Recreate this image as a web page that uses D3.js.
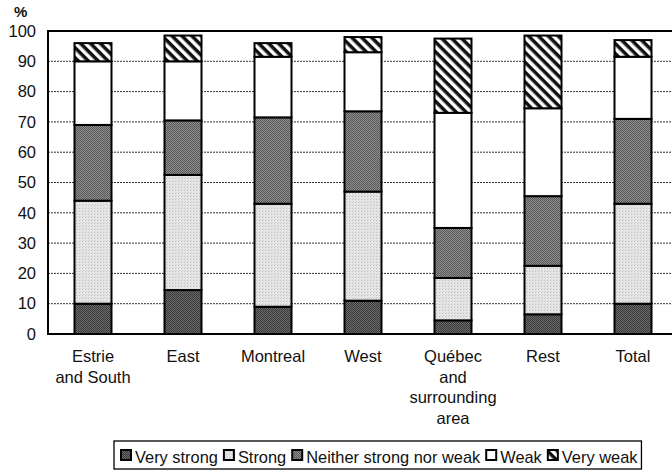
<!DOCTYPE html>
<html>
<head>
<meta charset="utf-8">
<script src="https://cdn.jsdelivr.net/npm/d3@7"></script>
<style>
  html, body { margin: 0; padding: 0; background: #fff; }
  svg { display: block; }
  text { font-family: "Liberation Sans", Arial, sans-serif; fill: #111; }
</style>
</head>
<body>
<svg id="chart" width="672" height="472"></svg>
<script>
// ---- data ----
const categories = ["Estrie and South", "East", "Montreal", "West", "Québec and surrounding area", "Rest", "Total"];
const categoryLines = [["Estrie", "and South"], ["East"], ["Montreal"], ["West"], ["Québec", "and", "surrounding", "area"], ["Rest"], ["Total"]];
const seriesNames = ["Very strong", "Strong", "Neither strong nor weak", "Weak", "Very weak"];
const veryStrong = [10, 14.5, 9, 11, 4.5, 6.5, 10];
const strong = [34, 38, 34, 36, 14, 16, 33];
const neither = [25, 18, 28.5, 26.5, 16.5, 23, 28];
const weak = [21, 19.5, 20, 19.5, 38, 29, 20.5];
const veryWeak = [6, 8.5, 4.5, 5, 24.5, 24, 5.5];
const yTicks = [0, 10, 20, 30, 40, 50, 60, 70, 80, 90, 100];

const seriesValues = [veryStrong, strong, neither, weak, veryWeak];
const rows = categories.map((c, i) => {
  const r = { category: c };
  seriesNames.forEach((s, j) => { r[s] = seriesValues[j][i]; });
  return r;
});

// ---- layout ----
const svg = d3.select("#chart");
const plot = { left: 48, right: 678, top: 31, bottom: 334 };

const x = d3.scaleBand().domain(categories).range([plot.left, plot.right])
  .paddingInner(0.589).paddingOuter(0.2945);
const y = d3.scaleLinear().domain([0, 100]).range([plot.bottom, plot.top]);

// ---- patterns ----
const defs = svg.append("defs");
function checker(id, a, b) {
  const p = defs.append("pattern").attr("id", id).attr("patternUnits", "userSpaceOnUse")
    .attr("width", 2).attr("height", 2);
  p.append("rect").attr("width", 2).attr("height", 2).attr("fill", a);
  p.append("rect").attr("width", 1).attr("height", 1).attr("fill", b);
  p.append("rect").attr("x", 1).attr("y", 1).attr("width", 1).attr("height", 1).attr("fill", b);
}
checker("pVS", "#6c6c6c", "#383838");
checker("pN", "#8e8e8e", "#585858");
{
  const p = defs.append("pattern").attr("id", "pS").attr("patternUnits", "userSpaceOnUse")
    .attr("width", 3).attr("height", 3);
  p.append("rect").attr("width", 3).attr("height", 3).attr("fill", "#e6e6e6");
  p.append("rect").attr("x", 1).attr("y", 1).attr("width", 1).attr("height", 1).attr("fill", "#bdbdbd");
  p.append("rect").attr("x", 2).attr("y", 0).attr("width", 1).attr("height", 1).attr("fill", "#d2d2d2");
}
{
  const p = defs.append("pattern").attr("id", "pVW").attr("patternUnits", "userSpaceOnUse")
    .attr("width", 7).attr("height", 7).attr("patternTransform", "rotate(45)");
  p.append("rect").attr("width", 7).attr("height", 7).attr("fill", "#fff");
  p.append("rect").attr("width", 7).attr("height", 3.5).attr("fill", "#111");
}
const fills = ["url(#pVS)", "url(#pS)", "url(#pN)", "#ffffff", "url(#pVW)"];

// ---- gridlines ----
svg.append("g").selectAll("line").data(yTicks.filter(t => t > 0 && t < 100)).join("line")
  .attr("x1", plot.left).attr("x2", plot.right)
  .attr("y1", d => y(d)).attr("y2", d => y(d))
  .attr("stroke", "#333").attr("stroke-width", 1).attr("stroke-dasharray", "2,1");

// ---- bars ----
const stack = d3.stack().keys(seriesNames)(rows);
svg.append("g").selectAll("g").data(stack).join("g")
  .attr("fill", (d, i) => fills[i])
  .selectAll("rect").data(d => d).join("rect")
  .attr("x", d => x(d.data.category))
  .attr("width", x.bandwidth())
  .attr("y", d => y(d[1]))
  .attr("height", d => y(d[0]) - y(d[1]))
  .attr("stroke", "#000").attr("stroke-width", 2);

// ---- frame ----
svg.append("rect").attr("x", plot.left).attr("y", plot.top)
  .attr("width", plot.right - plot.left).attr("height", plot.bottom - plot.top)
  .attr("fill", "none").attr("stroke", "#000").attr("stroke-width", 2);

// ---- y axis labels ----
const yAxis = d3.axisLeft(y).tickValues(yTicks).tickSize(0).tickPadding(12);
const ya = svg.append("g").attr("transform", `translate(${plot.left},0)`).call(yAxis);
ya.select(".domain").remove();
ya.selectAll("text").attr("font-size", 16.5).attr("fill", "#111")
  .style("font-family", '"Liberation Sans", Arial, sans-serif');
svg.append("text").attr("x", 14).attr("y", 17).attr("font-size", 15).attr("font-weight", "bold").text("%");

// ---- x labels ----
const xl = svg.append("g");
categories.forEach((c, i) => {
  const cx = x(c) + x.bandwidth() / 2;
  const t = xl.append("text").attr("text-anchor", "middle").attr("font-size", 16.5);
  categoryLines[i].forEach((line, k) => {
    t.append("tspan").attr("x", cx).attr("y", 362 + k * 20.5).text(line);
  });
});

// ---- legend ----
const lg = svg.append("g");
const box = lg.append("rect").attr("y", 441).attr("height", 28)
  .attr("fill", "#fff").attr("stroke", "#000").attr("stroke-width", 1.3);
let cxPos = 121;
seriesNames.forEach((s, i) => {
  lg.append("rect").attr("x", cxPos).attr("y", 450).attr("width", 10).attr("height", 10)
    .attr("fill", fills[i]).attr("stroke", "#000").attr("stroke-width", 2);
  const t = lg.append("text").attr("x", cxPos + 14).attr("y", 463).attr("font-size", 16.4).text(s);
  cxPos += 14 + t.node().getComputedTextLength() + 6;
});
box.attr("x", 114).attr("width", cxPos - 6 + 4 - 114);
</script>
</body>
</html>
